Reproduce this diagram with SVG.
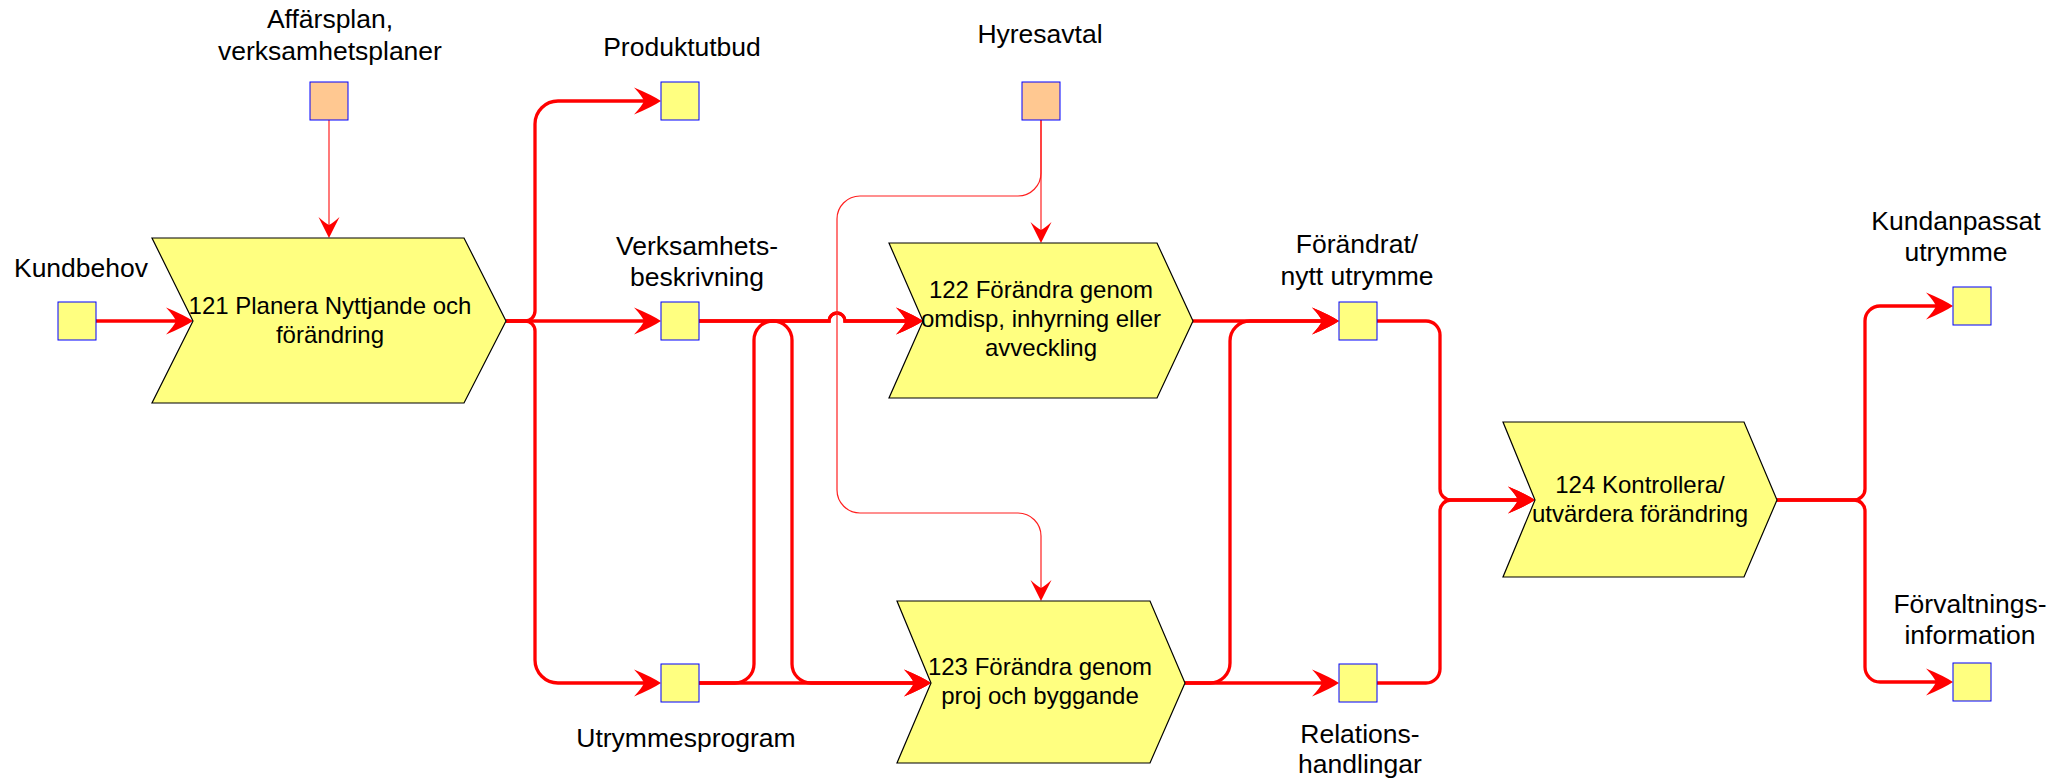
<svg xmlns="http://www.w3.org/2000/svg" width="2071" height="783" viewBox="0 0 2071 783">
<style>
.lbl{font-family:"Liberation Sans",Arial,sans-serif;font-size:26.5px;fill:#000;text-anchor:middle}
.ptx{font-family:"Liberation Sans",Arial,sans-serif;font-size:24px;fill:#000;text-anchor:middle}
.box{fill:#FFFF80;stroke:#0000FF;stroke-width:1}
.obox{fill:#FFC891;stroke:#0000FF;stroke-width:1}
.proc{fill:#FFFF80;stroke:#000;stroke-width:1.2}
.thick{fill:none;stroke:#FF0000;stroke-width:3.3;marker-end:url(#ah)}
.thin{fill:none;stroke:#FF2020;stroke-width:1.2;marker-end:url(#ahs)}
</style>
<defs>
<marker id="ah" viewBox="-29 -15 31 30" refX="-10" refY="0" markerWidth="31" markerHeight="30" markerUnits="userSpaceOnUse" orient="auto">
<path d="M0,0 Q-9,-6 -27,-13.5 Q-19,-5 -17,0 Q-19,5 -27,13.5 Q-9,6 0,0 Z" fill="#FF0000"/>
</marker>
<marker id="ahs" viewBox="-23 -12 25 24" refX="-6" refY="0" markerWidth="25" markerHeight="24" markerUnits="userSpaceOnUse" orient="auto">
<path d="M0,0 Q-8,-4 -21,-10.5 Q-15,-4 -13,0 Q-15,4 -21,10.5 Q-8,4 0,0 Z" fill="#FF0000"/>
</marker>
</defs>

<g id="connectors">
<path class="thick" d="M96,321 H183"/>
<path class="thick" d="M506,321 H525 A10,10 0 0 0 535,311 V124 A23,23 0 0 1 558,101 H651"/>
<path class="thick" d="M506,321 H651"/>
<path class="thick" d="M506,321 H525 A10,10 0 0 1 535,331 V660 A23,23 0 0 0 558,683 H651"/>
<path class="thick" d="M699,321 H829 A8,8 0 0 1 845,321 H913"/>
<path class="thick" d="M699,321 H773 A19,19 0 0 1 792,340 V664 A19,19 0 0 0 811,683 H921"/>
<path class="thick" d="M699,683 H735 A19,19 0 0 0 754,664 V340 A19,19 0 0 1 773,321 H829 A8,8 0 0 1 845,321 H913"/>
<path class="thick" d="M699,683 H921"/>
<path class="thick" d="M1193,321 H1329"/>
<path class="thick" d="M1185,683 H1210 A20,20 0 0 0 1230,663 V341 A20,20 0 0 1 1250,321 H1329"/>
<path class="thick" d="M1185,683 H1329"/>
<path class="thick" d="M1377,321 H1426 A14,14 0 0 1 1440,335 V489 A11,11 0 0 0 1451,500 H1525"/>
<path class="thick" d="M1377,683 H1426 A14,14 0 0 0 1440,669 V511 A11,11 0 0 1 1451,500 H1525"/>
<path class="thick" d="M1777,500 H1854 A11,11 0 0 0 1865,489 V321 A15,15 0 0 1 1880,306 H1943"/>
<path class="thick" d="M1777,500 H1854 A11,11 0 0 1 1865,511 V667 A15,15 0 0 0 1880,682 H1943"/>
<path class="thin" d="M329,120 V232"/>
<path class="thin" d="M1041,120 V237"/>
<path class="thin" d="M1041,120 V173 A23,23 0 0 1 1018,196 H860 A23,23 0 0 0 837,219 V490 A23,23 0 0 0 860,513 H1018 A23,23 0 0 1 1041,536 V595"/>
</g>

<g id="n121">
<polygon class="proc" points="152,238 464,238 506,321 464,403 152,403 193,321"/>
<text class="ptx" x="330" y="314">121 Planera Nyttjande och</text>
<text class="ptx" x="330" y="343">förändring</text>
</g>
<g id="n122">
<polygon class="proc" points="889,243 1157,243 1193,321 1157,398 889,398 923,321"/>
<text class="ptx" x="1041" y="298">122 Förändra genom</text>
<text class="ptx" x="1041" y="327">omdisp, inhyrning eller</text>
<text class="ptx" x="1041" y="356">avveckling</text>
</g>
<g id="n123">
<polygon class="proc" points="897,601 1150,601 1185,683 1150,763 897,763 931,683"/>
<text class="ptx" x="1040" y="675">123 Förändra genom</text>
<text class="ptx" x="1040" y="704">proj och byggande</text>
</g>
<g id="n124">
<polygon class="proc" points="1503,422 1744,422 1777,500 1744,577 1503,577 1535,500"/>
<text class="ptx" x="1640" y="493">124 Kontrollera/</text>
<text class="ptx" x="1640" y="522">utvärdera förändring</text>
</g>

<g id="kundbehov">
<rect class="box" x="58" y="302" width="38" height="38"/>
<text class="lbl" x="81" y="277">Kundbehov</text>
</g>
<g id="affarsplan">
<rect class="obox" x="310" y="82" width="38" height="38"/>
<text class="lbl" x="330" y="28">Affärsplan,</text>
<text class="lbl" x="330" y="60">verksamhetsplaner</text>
</g>
<g id="produktutbud">
<rect class="box" x="661" y="82" width="38" height="38"/>
<text class="lbl" x="682" y="56">Produktutbud</text>
</g>
<g id="verksamhetsbeskrivning">
<rect class="box" x="661" y="302" width="38" height="38"/>
<text class="lbl" x="697" y="255">Verksamhets-</text>
<text class="lbl" x="697" y="286">beskrivning</text>
</g>
<g id="utrymmesprogram">
<rect class="box" x="661" y="664" width="38" height="38"/>
<text class="lbl" x="686" y="747">Utrymmesprogram</text>
</g>
<g id="hyresavtal">
<rect class="obox" x="1022" y="82" width="38" height="38"/>
<text class="lbl" x="1040" y="43">Hyresavtal</text>
</g>
<g id="forandrat">
<rect class="box" x="1339" y="302" width="38" height="38"/>
<text class="lbl" x="1357" y="253">Förändrat/</text>
<text class="lbl" x="1357" y="285">nytt utrymme</text>
</g>
<g id="relations">
<rect class="box" x="1339" y="664" width="38" height="38"/>
<text class="lbl" x="1360" y="743">Relations-</text>
<text class="lbl" x="1360" y="773">handlingar</text>
</g>
<g id="kundanpassat">
<rect class="box" x="1953" y="287" width="38" height="38"/>
<text class="lbl" x="1956" y="230">Kundanpassat</text>
<text class="lbl" x="1956" y="261">utrymme</text>
</g>
<g id="forvaltning">
<rect class="box" x="1953" y="663" width="38" height="38"/>
<text class="lbl" x="1970" y="613">Förvaltnings-</text>
<text class="lbl" x="1970" y="644">information</text>
</g>
</svg>
